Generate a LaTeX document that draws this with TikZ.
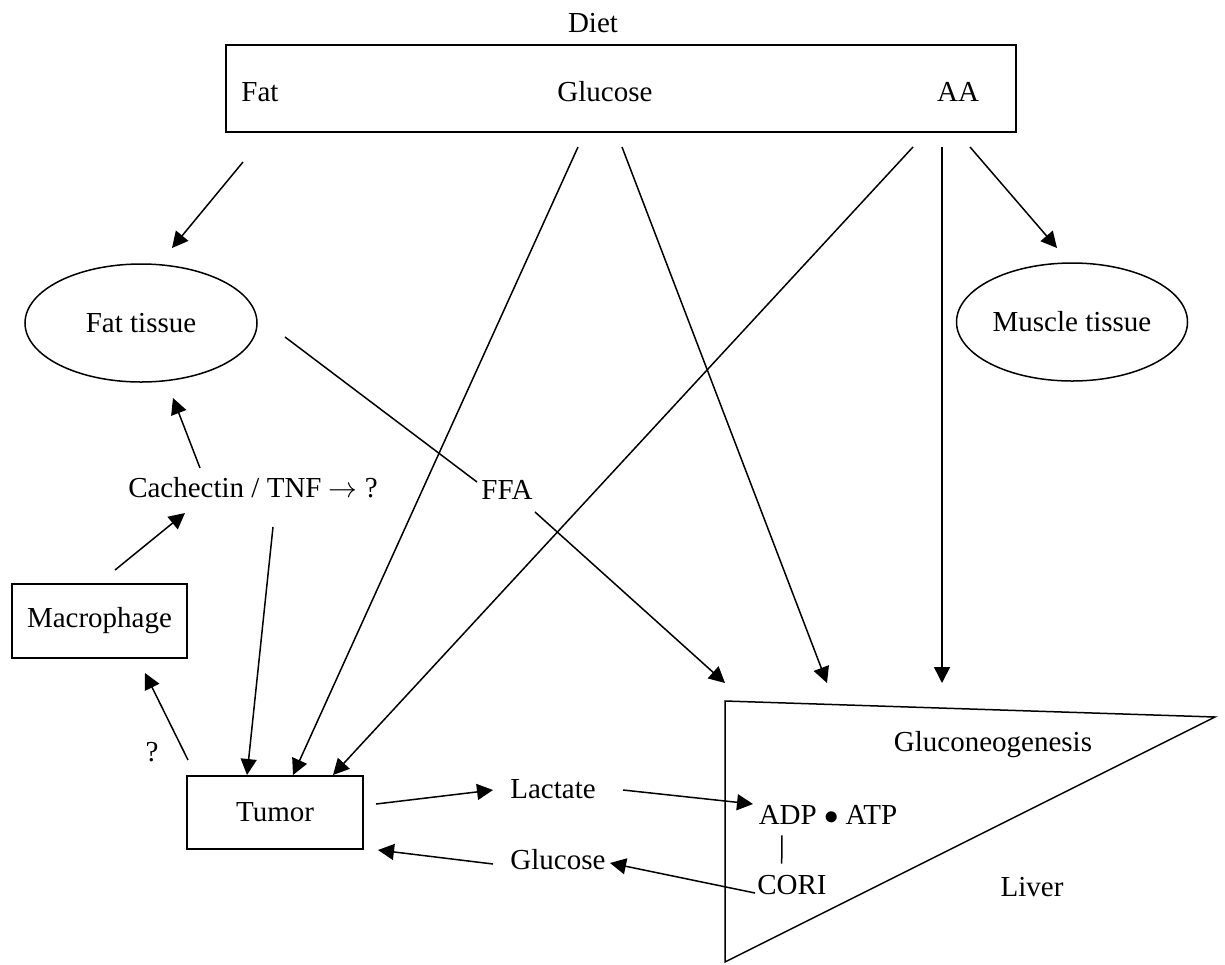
\documentclass[tikz,border=0pt]{standalone}
\usepackage{fontspec}
\setmainfont{Liberation Serif}
\usetikzlibrary{arrows.meta,shapes.geometric}
\tikzset{
  arr/.style={-{Triangle[length=8pt,width=8pt]}},
  box/.style={draw, minimum width=88pt, minimum height=36.5pt},
  tissue/.style={draw, ellipse, minimum width=116pt, minimum height=59pt},
}
\begin{document}
\begin{tikzpicture}[x=0.5pt,y=-0.5pt,line width=0.75pt,font=\fontsize{14.5}{17}\selectfont]
\tikzstyle{every node}+=[inner sep=0pt]
\useasboundingbox (0,0) rectangle (1225,964);
\node (diet) at (593,23) {Diet};
\node [draw, minimum width=395pt, minimum height=43.5pt] (dietbox) at (621,88.5) {};
\node (fat) at (260,92) {Fat};
\node (glc) at (605,92) {Glucose};
\node (aa) at (958,92) {AA};
\node [tissue] (fattissue) at (141,323) {Fat tissue};
\node [tissue, minimum width=115.5pt] (muscletissue) at (1072,322) {Muscle tissue};
\node (cachectin) at (253,488) {Cachectin / TNF $\rightarrow$ ?};
\node (ffa) at (507,490) {FFA};
\node [box, minimum width=87.5pt, minimum height=37pt] (macrophage) at (99.5,621) {Macrophage};
\node (qmark) at (152,752) {?};
\node [box] (tumor) at (275,812.5) {Tumor};
\node (lactate) at (553,789) {Lactate};
\node (glcout) at (558,860) {Glucose};
\node (gluconeo) at (993,745) {Gluconeogenesis};
\node (adpatp) at (828,815) {ADP $\bullet$ ATP};
\node (cori) at (792,885) {CORI};
\node (liver) at (1032,887) {Liver};
\coordinate (livTL) at (725,701);
\coordinate (livR) at (1215,717);
\coordinate (livBL) at (725,962);
\draw (livTL) -- (livR) -- (livBL) -- cycle;
\coordinate (fatS) at (243,162);
\coordinate (fatT) at (172,248);
\coordinate (glcS1) at (578,147);
\coordinate (glcT1) at (293,775);
\coordinate (glcS2) at (622,147);
\coordinate (glcT2) at (827,683);
\coordinate (aaS1) at (913,147);
\coordinate (aaT1) at (333,775);
\coordinate (aaS2) at (942,147);
\coordinate (aaT2) at (942,683);
\coordinate (aaS3) at (970,147);
\coordinate (aaT3) at (1057,248);
\coordinate (ftS) at (285,337);
\coordinate (ftT) at (477,482);
\coordinate (ffaS) at (535,512);
\coordinate (ffaT) at (725,683);
\coordinate (cacS1) at (200,468);
\coordinate (cacT1) at (173,398);
\coordinate (macS) at (115,570);
\coordinate (macT) at (185,513);
\coordinate (cacS2) at (273,527);
\coordinate (cacT2) at (247,775);
\coordinate (tumS1) at (188,760);
\coordinate (tumT1) at (145,673);
\coordinate (tumS2) at (376,804);
\coordinate (tumT2) at (493,790);
\coordinate (lacS) at (623,790);
\coordinate (lacT) at (753,804);
\coordinate (coriS) at (755,893);
\coordinate (coriT) at (610,863);
\coordinate (glcS3) at (493,864);
\coordinate (glcT3) at (378,850);
\draw [arr] (fatS) -- (fatT);
\draw [arr] (glcS1) -- (glcT1);
\draw [arr] (glcS2) -- (glcT2);
\draw [arr] (aaS1) -- (aaT1);
\draw [arr] (aaS2) -- (aaT2);
\draw [arr] (aaS3) -- (aaT3);
\draw (ftS) -- (ftT);
\draw [arr] (ffaS) -- (ffaT);
\draw [arr] (cacS1) -- (cacT1);
\draw [arr] (macS) -- (macT);
\draw [arr] (cacS2) -- (cacT2);
\draw [arr] (tumS1) -- (tumT1);
\draw [arr] (tumS2) -- (tumT2);
\draw [arr] (lacS) -- (lacT);
\draw [arr] (coriS) -- (coriT);
\draw [arr] (glcS3) -- (glcT3);
\draw [shorten <=5pt, shorten >=5.5pt] ([xshift=12pt]adpatp.south west) -- ([xshift=12.5pt]cori.north west);
\end{tikzpicture}
\end{document}
